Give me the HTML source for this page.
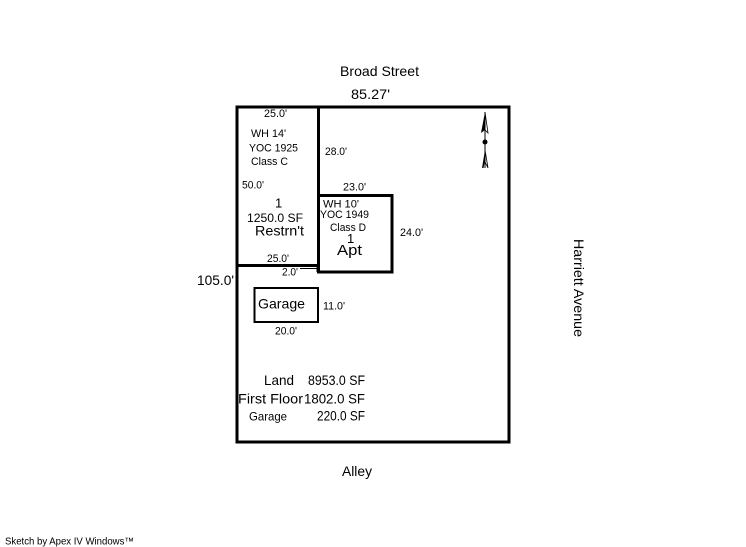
<!DOCTYPE html>
<html>
<head>
<meta charset="utf-8">
<style>
  html, body { margin: 0; padding: 0; background: #fff; }
  svg { display: block; }
  text { font-family: "Liberation Sans", Arial, sans-serif; fill: #000; }
</style>
</head>
<body>
<svg width="746" height="547" viewBox="0 0 746 547" xmlns="http://www.w3.org/2000/svg">
  <rect x="0" y="0" width="746" height="547" fill="#fff"/>

  <!-- Outer lot -->
  <rect x="237" y="107" width="272" height="335" fill="none" stroke="#000" stroke-width="3"/>

  <!-- Restaurant -->
  <path d="M237 107 L318.5 107 L318.5 265.5 L237 265.5" fill="none" stroke="#000" stroke-width="3"/>

  <!-- Apt -->
  <rect x="318.5" y="195.5" width="73.5" height="76.5" fill="none" stroke="#000" stroke-width="3"/>

  <!-- Garage -->
  <rect x="254.5" y="288" width="63.5" height="34" fill="none" stroke="#000" stroke-width="2"/>

  <!-- 2.0' dimension line -->
  <line x1="300" y1="268.5" x2="317" y2="268.5" stroke="#000" stroke-width="1"/>
  <line x1="317" y1="266" x2="317" y2="272" stroke="#000" stroke-width="1"/>

  <!-- North arrow -->
  <line x1="485" y1="112" x2="485" y2="168" stroke="#000" stroke-width="1"/>
  <polygon points="485,112 481,133 485,130" fill="#000"/>
  <polyline points="485,112 488,133 485,130" fill="none" stroke="#000" stroke-width="0.8"/>
  <circle cx="485" cy="142" r="2.5" fill="#000"/>
  <polygon points="485,150 482,168 483.5,168 485,160" fill="#000"/>
  <polyline points="485,150 488,168 485,162" fill="none" stroke="#000" stroke-width="0.8"/>

  <!-- Street labels -->
  <text x="340" y="76" font-size="14" textLength="79" lengthAdjust="spacingAndGlyphs">Broad Street</text>
  <text x="351" y="99" font-size="14" textLength="39" lengthAdjust="spacingAndGlyphs">85.27'</text>
  <text x="342" y="476" font-size="14" textLength="30" lengthAdjust="spacingAndGlyphs">Alley</text>
  <text x="0" y="0" font-size="14" textLength="98" lengthAdjust="spacingAndGlyphs" transform="translate(574,239) rotate(90)">Harriett Avenue</text>
  <text x="197" y="285" font-size="14" textLength="37" lengthAdjust="spacingAndGlyphs">105.0'</text>

  <!-- Restaurant labels -->
  <text x="264" y="117" font-size="11" textLength="23" lengthAdjust="spacingAndGlyphs">25.0'</text>
  <text x="251" y="137" font-size="11" textLength="35" lengthAdjust="spacingAndGlyphs">WH 14'</text>
  <text x="249" y="151.5" font-size="11" textLength="49" lengthAdjust="spacingAndGlyphs">YOC 1925</text>
  <text x="251" y="165" font-size="11" textLength="37" lengthAdjust="spacingAndGlyphs">Class C</text>
  <text x="325" y="155" font-size="11" textLength="22" lengthAdjust="spacingAndGlyphs">28.0'</text>
  <text x="242" y="188.5" font-size="11" textLength="22" lengthAdjust="spacingAndGlyphs">50.0'</text>
  <text x="343" y="190.5" font-size="11" textLength="23" lengthAdjust="spacingAndGlyphs">23.0'</text>
  <text x="275" y="207.5" font-size="13">1</text>
  <text x="247" y="222" font-size="12" textLength="56" lengthAdjust="spacingAndGlyphs">1250.0 SF</text>
  <text x="255" y="235.5" font-size="14" textLength="49" lengthAdjust="spacingAndGlyphs">Restrn't</text>
  <text x="267" y="262" font-size="11" textLength="22" lengthAdjust="spacingAndGlyphs">25.0'</text>
  <text x="282" y="275.5" font-size="11" textLength="16" lengthAdjust="spacingAndGlyphs">2.0'</text>

  <!-- Apt labels -->
  <text x="323" y="207.5" font-size="11" textLength="36" lengthAdjust="spacingAndGlyphs">WH 10'</text>
  <text x="320" y="218" font-size="11" textLength="49" lengthAdjust="spacingAndGlyphs">YOC 1949</text>
  <text x="330" y="231" font-size="11" textLength="36" lengthAdjust="spacingAndGlyphs">Class D</text>
  <text x="347" y="243" font-size="13">1</text>
  <text x="337" y="255" font-size="15" textLength="25" lengthAdjust="spacingAndGlyphs">Apt</text>
  <text x="400" y="236" font-size="11" textLength="23" lengthAdjust="spacingAndGlyphs">24.0'</text>

  <!-- Garage labels -->
  <text x="258" y="308.5" font-size="14" textLength="47" lengthAdjust="spacingAndGlyphs">Garage</text>
  <text x="323" y="309.5" font-size="11" textLength="22" lengthAdjust="spacingAndGlyphs">11.0'</text>
  <text x="275" y="334.5" font-size="11" textLength="22" lengthAdjust="spacingAndGlyphs">20.0'</text>

  <!-- Area summary -->
  <text x="264" y="385" font-size="14" textLength="30" lengthAdjust="spacingAndGlyphs">Land</text>
  <text x="308" y="385" font-size="14" textLength="57" lengthAdjust="spacingAndGlyphs">8953.0 SF</text>
  <text x="238" y="403.5" font-size="14" textLength="65" lengthAdjust="spacingAndGlyphs">First Floor</text>
  <text x="304" y="403.5" font-size="14" textLength="61" lengthAdjust="spacingAndGlyphs">1802.0 SF</text>
  <text x="249" y="420.5" font-size="12" textLength="38" lengthAdjust="spacingAndGlyphs">Garage</text>
  <text x="317" y="420.5" font-size="14" textLength="48" lengthAdjust="spacingAndGlyphs">220.0 SF</text>

  <!-- Footer -->
  <text x="5" y="544.5" font-size="10" textLength="129" lengthAdjust="spacingAndGlyphs">Sketch by Apex IV Windows™</text>
</svg>
</body>
</html>
